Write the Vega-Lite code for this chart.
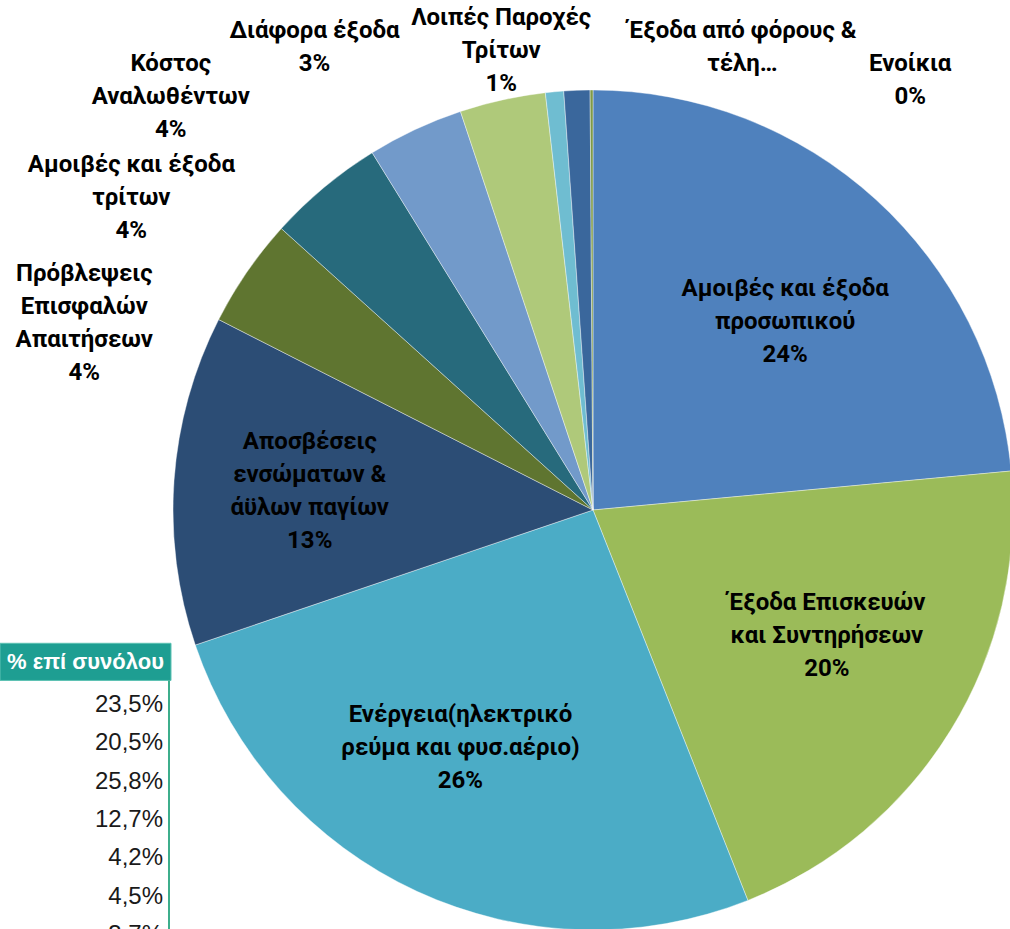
{
  "$schema": "https://vega.github.io/schema/vega-lite/v6.json",
  "autosize": {"type": "none"},
  "width": 834,
  "height": 838,
  "padding": {"left": 176, "top": 91, "right": 0, "bottom": 0},
  "background": "#ffffff",
  "config": {
    "view": {"stroke": null},
    "locale": {"number": {"decimal": ",", "thousands": ".", "grouping": [3], "currency": ["", " €"]}},
    "text": {"font": "Roboto", "fontWeight": "bold", "fontSize": 24, "lineHeight": 33, "fill": "#000000", "align": "center", "baseline": "middle"}
  },
  "data": {"values": [
    {"order": 1, "cat": "Αμοιβές και έξοδα προσωπικού", "value": 0.2352, "label": ["Αμοιβές και έξοδα", "προσωπικού", "24%"]},
    {"order": 2, "cat": "Έξοδα Επισκευών και Συντηρήσεων", "value": 0.2047, "label": ["Έξοδα Επισκευών", "και Συντηρήσεων", "20%"]},
    {"order": 3, "cat": "Ενέργεια(ηλεκτρικό ρεύμα και φυσ.αέριο)", "value": 0.258, "label": ["Ενέργεια(ηλεκτρικό", "ρεύμα και φυσ.αέριο)", "26%"]},
    {"order": 4, "cat": "Αποσβέσεις ενσώματων & άϋλων παγίων", "value": 0.127, "label": ["Αποσβέσεις", "ενσώματων &", "άϋλων παγίων", "13%"]},
    {"order": 5, "cat": "Πρόβλεψεις Επισφαλών Απαιτήσεων", "value": 0.042, "label": ["Πρόβλεψεις", "Επισφαλών", "Απαιτήσεων", "4%"]},
    {"order": 6, "cat": "Αμοιβές και έξοδα τρίτων", "value": 0.045, "label": ["Αμοιβές και έξοδα", "τρίτων", "4%"]},
    {"order": 7, "cat": "Κόστος Αναλωθέντων", "value": 0.037, "label": ["Κόστος", "Αναλωθέντων", "4%"]},
    {"order": 8, "cat": "Διάφορα έξοδα", "value": 0.033, "label": ["Διάφορα έξοδα", "3%"]},
    {"order": 9, "cat": "Λοιπές Παροχές Τρίτων", "value": 0.007, "label": ["Λοιπές Παροχές", "Τρίτων", "1%"]},
    {"order": 10, "cat": "Έξοδα από φόρους & τέλη", "value": 0.01, "label": ["Έξοδα από φόρους &", "τέλη…"]},
    {"order": 11, "cat": "Ενοίκια", "value": 0.0011, "label": ["Ενοίκια", "0%"]}
  ]},
  "layer": [
    {
      "mark": {"type": "arc", "outerRadius": 420, "stroke": "#ffffff", "strokeWidth": 0.4},
      "encoding": {
        "theta": {"field": "value", "type": "quantitative", "stack": true},
        "order": {"field": "order", "type": "quantitative"},
        "color": {
          "field": "cat", "type": "nominal", "legend": null,
          "scale": {
            "domain": ["Αμοιβές και έξοδα προσωπικού", "Έξοδα Επισκευών και Συντηρήσεων", "Ενέργεια(ηλεκτρικό ρεύμα και φυσ.αέριο)", "Αποσβέσεις ενσώματων & άϋλων παγίων", "Πρόβλεψεις Επισφαλών Απαιτήσεων", "Αμοιβές και έξοδα τρίτων", "Κόστος Αναλωθέντων", "Διάφορα έξοδα", "Λοιπές Παροχές Τρίτων", "Έξοδα από φόρους & τέλη", "Ενοίκια"],
            "range": ["#4F81BD", "#9BBB59", "#4BACC6", "#2C4D75", "#5F7530", "#276A7C", "#729ACA", "#AFC97A", "#6FBDD1", "#3A679C", "#7F9A48"]
          }
        }
      }
    },
    {
      "mark": {"type": "text", "radius": 269, "dx": 11, "dy": -22},
      "encoding": {
        "theta": {"field": "value", "type": "quantitative", "stack": true},
        "order": {"field": "order", "type": "quantitative"},
        "text": {"condition": {"test": "datum.order === 1", "field": "label"}, "value": ""}
      }
    },
    {
      "mark": {"type": "text", "radius": 265, "dx": 8, "dy": -46},
      "encoding": {
        "theta": {"field": "value", "type": "quantitative", "stack": true},
        "order": {"field": "order", "type": "quantitative"},
        "text": {"condition": {"test": "datum.order === 2", "field": "label"}, "value": ""}
      }
    },
    {
      "mark": {"type": "text", "radius": 273, "dx": -18, "dy": -43},
      "encoding": {
        "theta": {"field": "value", "type": "quantitative", "stack": true},
        "order": {"field": "order", "type": "quantitative"},
        "text": {"condition": {"test": "datum.order === 3", "field": "label"}, "value": ""}
      }
    },
    {
      "mark": {"type": "text", "radius": 284, "dx": 0, "dy": -48},
      "encoding": {
        "theta": {"field": "value", "type": "quantitative", "stack": true},
        "order": {"field": "order", "type": "quantitative"},
        "text": {"condition": {"test": "datum.order === 4", "field": "label"}, "value": ""}
      }
    },
    {
      "mark": {"type": "text", "radius": 541, "dx": -63, "dy": 71},
      "encoding": {
        "theta": {"field": "value", "type": "quantitative", "stack": true},
        "order": {"field": "order", "type": "quantitative"},
        "text": {"condition": {"test": "datum.order === 5", "field": "label"}, "value": ""}
      }
    },
    {
      "mark": {"type": "text", "radius": 557, "dx": -105, "dy": 83},
      "encoding": {
        "theta": {"field": "value", "type": "quantitative", "stack": true},
        "order": {"field": "order", "type": "quantitative"},
        "text": {"condition": {"test": "datum.order === 6", "field": "label"}, "value": ""}
      }
    },
    {
      "mark": {"type": "text", "radius": 591, "dx": -172, "dy": 89},
      "encoding": {
        "theta": {"field": "value", "type": "quantitative", "stack": true},
        "order": {"field": "order", "type": "quantitative"},
        "text": {"condition": {"test": "datum.order === 7", "field": "label"}, "value": ""}
      }
    },
    {
      "mark": {"type": "text", "radius": 540, "dx": -162, "dy": 48},
      "encoding": {
        "theta": {"field": "value", "type": "quantitative", "stack": true},
        "order": {"field": "order", "type": "quantitative"},
        "text": {"condition": {"test": "datum.order === 8", "field": "label"}, "value": ""}
      }
    },
    {
      "mark": {"type": "text", "radius": 468, "dx": -49, "dy": -26},
      "encoding": {
        "theta": {"field": "value", "type": "quantitative", "stack": true},
        "order": {"field": "order", "type": "quantitative"},
        "text": {"condition": {"test": "datum.order === 9", "field": "label"}, "value": ""}
      }
    },
    {
      "mark": {"type": "text", "radius": 485, "dx": 168, "dy": 6},
      "encoding": {
        "theta": {"field": "value", "type": "quantitative", "stack": true},
        "order": {"field": "order", "type": "quantitative"},
        "text": {"condition": {"test": "datum.order === 10", "field": "label"}, "value": ""}
      }
    },
    {
      "mark": {"type": "text", "radius": 533, "dx": 319, "dy": 87},
      "encoding": {
        "theta": {"field": "value", "type": "quantitative", "stack": true},
        "order": {"field": "order", "type": "quantitative"},
        "text": {"condition": {"test": "datum.order === 11", "field": "label"}, "value": ""}
      }
    },
    {
      "data": {"values": [{"h": "% επί συνόλου", "top": -0.61, "bottom": 0.36}]},
      "mark": {"type": "rect", "fill": "#1E9E92", "stroke": "#5DC2B3", "strokeWidth": 1},
      "encoding": {
        "x": {"value": -176}, "x2": {"value": -5},
        "y": {"field": "top", "type": "quantitative", "scale": {"domain": [1, 7], "range": [614, 844], "zero": false, "nice": false}, "axis": null},
        "y2": {"field": "bottom"}
      }
    },
    {
      "data": {"values": [{"h": "% επί συνόλου", "pos": -0.13}]},
      "mark": {"type": "text", "font": "Liberation Sans", "fontWeight": "bold", "fontSize": 22, "fill": "#ffffff", "align": "right", "baseline": "middle"},
      "encoding": {
        "x": {"value": -12},
        "y": {"field": "pos", "type": "quantitative", "axis": null},
        "text": {"field": "h"}
      }
    },
    {
      "data": {"values": [{"top": 0.36, "bottom": 12}]},
      "mark": {"type": "rule", "stroke": "#3DAE8C", "strokeWidth": 2},
      "encoding": {
        "x": {"value": -7},
        "y": {"field": "top", "type": "quantitative", "axis": null},
        "y2": {"field": "bottom"}
      }
    },
    {
      "mark": {"type": "text", "font": "Liberation Sans", "fontWeight": "normal", "fontSize": 24, "fill": "#1a1a1a", "align": "right", "baseline": "middle"},
      "encoding": {
        "x": {"value": -13},
        "y": {"field": "order", "type": "quantitative", "axis": null},
        "text": {"field": "value", "type": "quantitative", "format": ".1%"}
      }
    }
  ]
}
